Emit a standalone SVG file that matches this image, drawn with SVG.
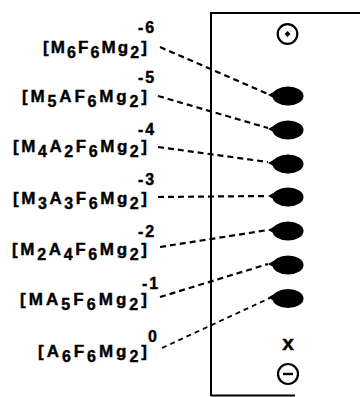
<svg xmlns="http://www.w3.org/2000/svg" width="360" height="397" viewBox="0 0 360 397">
<style>
.lbl{font-family:"Liberation Sans",Arial,sans-serif;font-weight:bold;font-size:17px;fill:#000;stroke:#000;stroke-width:0.4}
.sub{font-size:16px}
.sup{font-family:"Liberation Sans",Arial,sans-serif;font-weight:bold;font-size:16px;fill:#000;stroke:#000;stroke-width:0.4;letter-spacing:2px}
.dash{stroke:#000;stroke-width:2.2;stroke-dasharray:6 4;fill:none}
.box{stroke:#000;stroke-width:2;fill:none}
</style>
<defs>
<g id="spot">
<ellipse cx="0" cy="0" rx="15.5" ry="9.5" fill="#000"/>
<path d="M-20,-1 L-11,-6 L-11,4 Z" fill="#000"/>
</g>
</defs>
<rect width="360" height="397" fill="#fff"/>
<g id="frame">
<path class="box" d="M360,13 H211 V396"/>
<path class="box" d="M211,395.5 H295"/>
</g>
<g id="anode">
<circle cx="287.5" cy="34" r="9.8" fill="none" stroke="#000" stroke-width="2.2"/>
<path d="M287.5,31 L290.5,34 L287.5,37 L284.5,34 Z" fill="#000"/>
</g>
<g id="cathode">
<text x="288" y="350" text-anchor="middle" class="sup" style="font-size:21px;letter-spacing:0">x</text>
<circle cx="288" cy="374" r="10" fill="none" stroke="#000" stroke-width="2.2"/>
<path d="M283,374 H293" stroke="#000" stroke-width="2.4"/>
</g>
<g id="connectors">
<line class="dash" x1="160" y1="47" x2="268" y2="94"/>
<line class="dash" x1="158" y1="96" x2="268" y2="128"/>
<line class="dash" x1="158" y1="147" x2="268" y2="162"/>
<line class="dash" x1="158" y1="197" x2="268" y2="196"/>
<line class="dash" x1="160" y1="247" x2="268" y2="230"/>
<line class="dash" x1="160" y1="297" x2="268" y2="264"/>
<line class="dash" x1="162" y1="348" x2="270" y2="298" style="stroke-width:1.8;stroke-dasharray:5 4"/>
</g>
<g id="spots">
<use id="spot1" href="#spot" x="288" y="96"/>
<use id="spot2" href="#spot" x="288" y="130"/>
<use id="spot3" href="#spot" x="288" y="164"/>
<use id="spot4" href="#spot" x="288" y="197"/>
<use id="spot5" href="#spot" x="288" y="231"/>
<use id="spot6" href="#spot" x="288" y="265"/>
<use id="spot7" href="#spot" x="288" y="298.5"/>
</g>
<g id="label1">
<text class="lbl" x="43" y="53" textLength="104" lengthAdjust="spacing">[M<tspan class="sub" dy="5">6</tspan><tspan dy="-5">F</tspan><tspan class="sub" dy="5">6</tspan><tspan dy="-5">Mg</tspan><tspan class="sub" dy="5">2</tspan><tspan dy="-5">]</tspan></text>
<text class="sup" x="138" y="33">-6</text>
</g>
<g id="label2">
<text class="lbl" x="22" y="102" textLength="125" lengthAdjust="spacing">[M<tspan class="sub" dy="5">5</tspan><tspan dy="-5">AF</tspan><tspan class="sub" dy="5">6</tspan><tspan dy="-5">Mg</tspan><tspan class="sub" dy="5">2</tspan><tspan dy="-5">]</tspan></text>
<text class="sup" x="138" y="83">-5</text>
</g>
<g id="label3">
<text class="lbl" x="13" y="152" textLength="134" lengthAdjust="spacing">[M<tspan class="sub" dy="5">4</tspan><tspan dy="-5">A</tspan><tspan class="sub" dy="5">2</tspan><tspan dy="-5">F</tspan><tspan class="sub" dy="5">6</tspan><tspan dy="-5">Mg</tspan><tspan class="sub" dy="5">2</tspan><tspan dy="-5">]</tspan></text>
<text class="sup" x="138" y="135">-4</text>
</g>
<g id="label4">
<text class="lbl" x="13" y="204" textLength="134" lengthAdjust="spacing">[M<tspan class="sub" dy="5">3</tspan><tspan dy="-5">A</tspan><tspan class="sub" dy="5">3</tspan><tspan dy="-5">F</tspan><tspan class="sub" dy="5">6</tspan><tspan dy="-5">Mg</tspan><tspan class="sub" dy="5">2</tspan><tspan dy="-5">]</tspan></text>
<text class="sup" x="138" y="185">-3</text>
</g>
<g id="label5">
<text class="lbl" x="12" y="255" textLength="135" lengthAdjust="spacing">[M<tspan class="sub" dy="5">2</tspan><tspan dy="-5">A</tspan><tspan class="sub" dy="5">4</tspan><tspan dy="-5">F</tspan><tspan class="sub" dy="5">6</tspan><tspan dy="-5">Mg</tspan><tspan class="sub" dy="5">2</tspan><tspan dy="-5">]</tspan></text>
<text class="sup" x="138" y="237">-2</text>
</g>
<g id="label6">
<text class="lbl" x="20" y="305" textLength="127" lengthAdjust="spacing">[MA<tspan class="sub" dy="5">5</tspan><tspan dy="-5">F</tspan><tspan class="sub" dy="5">6</tspan><tspan dy="-5">Mg</tspan><tspan class="sub" dy="5">2</tspan><tspan dy="-5">]</tspan></text>
<text class="sup" x="142" y="289">-1</text>
</g>
<g id="label7">
<text class="lbl" x="38" y="357" textLength="109" lengthAdjust="spacing">[A<tspan class="sub" dy="5">6</tspan><tspan dy="-5">F</tspan><tspan class="sub" dy="5">6</tspan><tspan dy="-5">Mg</tspan><tspan class="sub" dy="5">2</tspan><tspan dy="-5">]</tspan></text>
<text class="sup" x="148" y="342">0</text>
</g>
</svg>
